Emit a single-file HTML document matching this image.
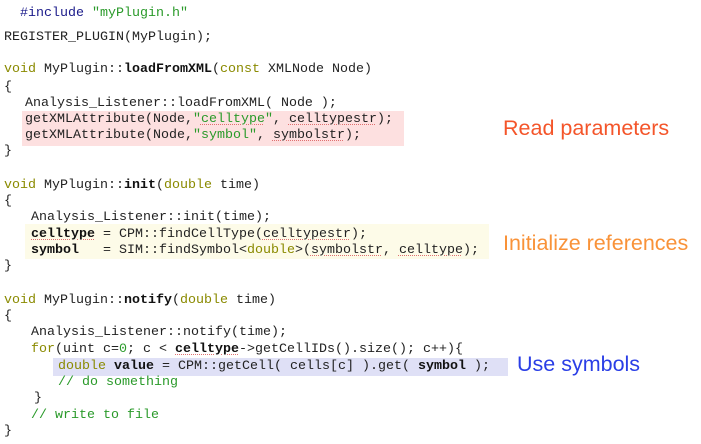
<!DOCTYPE html>
<html><head><meta charset="utf-8"><style>
body{margin:0;width:701px;height:444px;background:#fff;position:relative;overflow:hidden}
.l{position:absolute;font-family:"Liberation Mono",monospace;font-size:13.33px;line-height:16px;white-space:pre;color:#222}
.k{color:#8a8a00}.s{color:#2a9a2a}.c{color:#2a9a2a}.d{color:#1a1a8a}
b{font-weight:bold;color:#111}
.u{text-decoration:underline dotted #e07070;text-decoration-thickness:1px;text-underline-offset:2px}
.box{position:absolute}
.lab{position:absolute;font-family:"Liberation Sans",sans-serif;font-size:21.5px;white-space:nowrap}
</style></head><body>
<div class="box" style="left:22px;top:111px;width:382px;height:35px;background:#fde0e0"></div>
<div class="box" style="left:25px;top:224px;width:464px;height:35px;background:#fdfbe8"></div>
<div class="box" style="left:53px;top:358px;width:455px;height:18px;background:#dfe0f6"></div>

<div class="l" style="left:4px;top:6px">  <span class="d">#include</span> <span class="s">"myPlugin.h"</span></div>
<div class="l" style="left:4px;top:30px">REGISTER_PLUGIN(MyPlugin);</div>
<div class="l" style="left:4px;top:62px"><span class="k">void</span> MyPlugin::<b>loadFromXML</b>(<span class="k">const</span> XMLNode Node)</div>
<div class="l" style="left:4px;top:80px">{</div>
<div class="l" style="left:25px;top:96px">Analysis_Listener::loadFromXML( Node );</div>
<div class="l" style="left:25px;top:112px">getXMLAttribute(Node,<span class="s">"<span class="u">celltype</span>"</span>, <span class="u">celltypestr</span>);</div>
<div class="l" style="left:25px;top:128px">getXMLAttribute(Node,<span class="s">"symbol"</span>, <span class="u">symbolstr</span>);</div>
<div class="l" style="left:4px;top:144px">}</div>

<div class="l" style="left:4px;top:178px"><span class="k">void</span> MyPlugin::<b>init</b>(<span class="k">double</span> time)</div>
<div class="l" style="left:4px;top:194px">{</div>
<div class="l" style="left:31px;top:210px">Analysis_Listener::init(time);</div>
<div class="l" style="left:31px;top:227px"><b class="u">celltype</b> = CPM::findCellType(<span class="u">celltypestr</span>);</div>
<div class="l" style="left:31px;top:243px"><b>symbol</b>   = SIM::findSymbol&lt;<span class="k">double</span>&gt;(<span class="u">symbolstr</span>, <span class="u">celltype</span>);</div>
<div class="l" style="left:4px;top:259px">}</div>

<div class="l" style="left:4px;top:293px"><span class="k">void</span> MyPlugin::<b>notify</b>(<span class="k">double</span> time)</div>
<div class="l" style="left:4px;top:309px">{</div>
<div class="l" style="left:31px;top:325px">Analysis_Listener::notify(time);</div>
<div class="l" style="left:31px;top:342px"><span class="k">for</span>(uint c=<span class="s">0</span>; c &lt; <b class="u">celltype</b>-&gt;getCellIDs().size(); c++){</div>
<div class="l" style="left:58px;top:359px"><span class="k">double</span> <b>value</b> = CPM::getCell( cells[c] ).get( <b>symbol</b> );</div>
<div class="l" style="left:58px;top:375px"><span class="c">// do something</span></div>
<div class="l" style="left:34px;top:391px">}</div>
<div class="l" style="left:31px;top:408px"><span class="c">// write to file</span></div>
<div class="l" style="left:4px;top:424px">}</div>

<div class="lab" style="left:503px;top:116px;color:#f4552a">Read parameters</div>
<div class="lab" style="left:503px;top:231px;color:#f99238">Initialize references</div>
<div class="lab" style="left:517px;top:352px;color:#2a3ee6">Use symbols</div>
</body></html>
